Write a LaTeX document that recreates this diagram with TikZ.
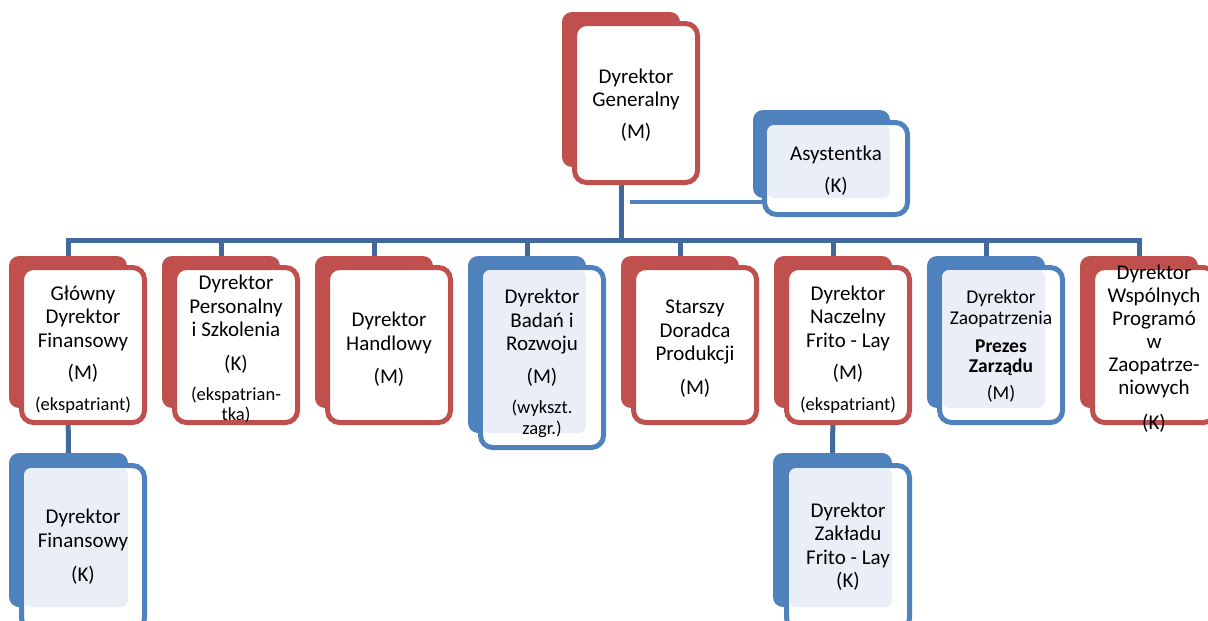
\documentclass[tikz,border=0pt]{standalone}
\usepackage{fontspec}
\setmainfont{Carlito}
\usetikzlibrary{fit,calc,backgrounds}
\definecolor{cred}{HTML}{C0504D}
\definecolor{cblue}{HTML}{4F81BD}
\definecolor{cbus}{HTML}{41699C}
\definecolor{clight}{HTML}{EAEFF7}
\tikzset{
  backbox/.style={fill=#1, draw=none, rounded corners=10pt, inner sep=0pt, outer sep=0pt},
  frontbox/.style={draw=#1, fill=white, line width=5pt, rounded corners=12pt, inner sep=0pt, outer sep=0pt},
  innerfill/.style={fill=clight, rounded corners=7pt},
  txt/.style={align=center, font=\fontsize{21}{23.5}\selectfont, inner sep=0pt, text=black},
  smalltxt/.style={align=center, font=\fontsize{19.5}{20.5}\selectfont, inner sep=0pt, text=black},
  bus/.style={draw=cbus, line width=5pt},
  aline/.style={draw=cblue, line width=4pt},
}
\newcommand\smtxt[1]{{\fontsize{18.5}{20.5}\selectfont #1}}
\newcommand\orgbox[6]{%
  \node[backbox=#2, fit={#3 #4}] (#1b) {};
  \node[frontbox=#2, fit={#5 #6}] (#1) {};
}
\newcommand\lightin[1]{\fill[innerfill] ($(#1.north west)+(2.5,2.5)$) rectangle (#1b.south east);}
\begin{document}
\begin{tikzpicture}[x=1pt,y=-1pt]
\useasboundingbox (0,0) rectangle (1208,621);
\clip (0,0) rectangle (1208,621);

% top
\orgbox{top}{cred}{(562,12)}{(680,167)}{(574.5,23.5)}{(697.5,182.5)}
\node[txt] (topt) at (636,105) {Dyrektor\\Generalny\\[8.5pt](M)};

% assistant
\orgbox{asys}{cblue}{(753,110)}{(890,198)}{(764.5,122.5)}{(907.5,214.5)}
\lightin{asys}
\node[txt] (asyst) at (836,170.5) {Asystentka\\[8.5pt](K)};

% row
\orgbox{glo}{cred}{(9,256)}{(127,408)}{(21.5,267.5)}{(144.5,422.5)}
\node[txt] (glot) at (83,349.5) {Główny\\Dyrektor\\Finansowy\\[8.5pt](M)\\[7.5pt]\smtxt{(ekspatriant)}};

\orgbox{per}{cred}{(162,256)}{(280,408)}{(174.5,267.5)}{(297.5,422.5)}
\node[txt] (pert) at (236,349) {Dyrektor\\Personalny\\i Szkolenia\\[10pt](K)\\[7pt]\smtxt{(ekspatrian-}\\[-3.5pt]\smtxt{tka)}};

\orgbox{han}{cred}{(315,256)}{(433,408)}{(327.5,267.5)}{(450.5,422.5)}
\node[txt] (hant) at (389,349) {Dyrektor\\Handlowy\\[9.5pt](M)};

\orgbox{bad}{cblue}{(468,256)}{(586,433)}{(480.5,267.5)}{(603.5,447.5)}
\lightin{bad}
\node[txt] (badt) at (542,363.5) {Dyrektor\\Badań i\\Rozwoju\\[9.5pt](M)\\[6.5pt]\smtxt{(wykszt.}\\[-3pt]\smtxt{zagr.)}};

\orgbox{sta}{cred}{(621,256)}{(739,408)}{(633.5,267.5)}{(756.5,422.5)}
\node[txt] (stat) at (695,349) {Starszy\\Doradca\\Produkcji\\[10.5pt](M)};

\orgbox{nac}{cred}{(774,256)}{(892,408)}{(786.5,267.5)}{(909.5,422.5)}
\node[txt] (nact) at (848,349.5) {Dyrektor\\Naczelny\\Frito - Lay\\[8.5pt](M)\\[7.5pt]\smtxt{(ekspatriant)}};

\orgbox{zao}{cblue}{(927,256)}{(1045,408)}{(939.5,267.5)}{(1062.5,422.5)}
\lightin{zao}
\node[smalltxt] (zaot) at (1001,346.5) {Dyrektor\\Zaopatrzenia\\[7.5pt]\textbf{Prezes}\\\textbf{Zarządu}\\[6.5pt](M)};

\orgbox{wsp}{cred}{(1080,256)}{(1198,408)}{(1092.5,267.5)}{(1215.5,422.5)}
\node[txt, font=\fontsize{21}{23}\selectfont] (wspt) at (1154,349) {Dyrektor\\Wspólnych\\Programó\\w\\Zaopatrze-\\niowych\\[12pt](K)};

% bottom
\orgbox{fin}{cblue}{(9,453)}{(128,607)}{(21.5,465.5)}{(144.5,630)}
\lightin{fin}
\node[txt] (fint) at (83,546.5) {Dyrektor\\Finansowy\\[10.5pt](K)};

\orgbox{zak}{cblue}{(773,453)}{(892,607)}{(786.5,465.5)}{(909.5,630)}
\lightin{zak}
\node[txt] (zakt) at (848,546.5) {Dyrektor\\Zakładu\\Frito - Lay\\(K)};

% connectors
\coordinate (busL) at (67,240);
\coordinate (aj) at (630,202);
\begin{pgfonlayer}{background}
  \draw[bus] (glob.north) |- (wspb.north |- busL) -- (wspb.north);
  \draw[bus] (topb.south) -- (topb.south |- busL);
  \foreach \n in {per,han,bad,sta,nac,zao}
    \draw[bus] (\n b.north |- busL) -- (\n b.north);
  \draw[bus] (glob.south) -- (finb.north);
  \draw[bus] (nacb.south) -- (zakb.north);
\end{pgfonlayer}
\draw[aline] (aj) -- (asys.west |- aj);
\end{tikzpicture}
\end{document}
